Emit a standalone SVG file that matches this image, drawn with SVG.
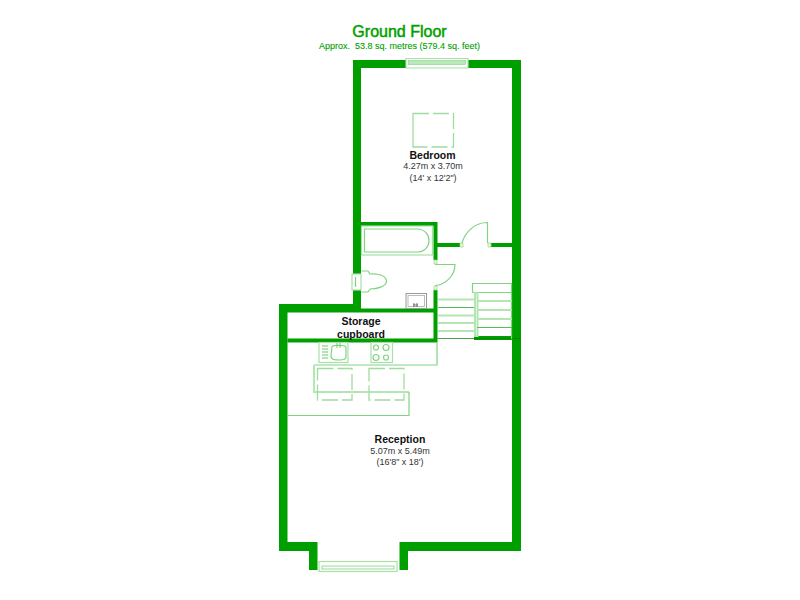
<svg xmlns="http://www.w3.org/2000/svg" width="800" height="600" viewBox="0 0 800 600">
<style>
text{font-family:"Liberation Sans",Arial,sans-serif;text-anchor:middle}
.w{fill:#009f00;stroke:none}
.l{fill:none;stroke:#80d480;stroke-width:1.2}
.p{fill:none;stroke:#b3e6b3;stroke-width:2}
.d{fill:none;stroke:#a0dca0;stroke-width:1.3;stroke-dasharray:16 4}
.g{fill:#fff;stroke:#a8e0a8;stroke-width:1.2}
.t{fill:#009f00}
.h{font-size:10.500px;font-weight:bold;fill:#111}
.s{font-size:9px;fill:#333}
</style>
<rect width="800" height="600" fill="#fff"/>
<text class="t" x="399.500" y="37" font-size="16" stroke="#009f00" stroke-width=".5">Ground Floor</text>
<text class="t" x="399.500" y="49" font-size="9" stroke="#009f00" stroke-width=".1" xml:space="preserve">Approx.  53.8 sq. metres (579.4 sq. feet)</text>
<g id="walls">
<path class="w" fill-rule="evenodd" d="M353 60H521V551H408V570H399.500V542H512V68H361V304H279V551H309V570H317.500V542H287.500V312.500H361V304H353Z"/>
<path class="w" d="M361 222H437.500V260H433.500V226H361ZM361 308.500H433.500V290H437.500V342.500H287.500V338.500H433.500V312.500H361ZM437.500 243H460V247H437.500ZM491 243H512V247H491ZM474 336H512V340H474Z"/>
<path d="M437.500 338.500H521" stroke="#007a00" stroke-width=".7" fill="none"/>
</g>
<g id="bedroom">
<path class="g" d="M406 58.500H468V68H406Z"/>
<rect x="408.500" y="60.500" width="57" height="4" fill="#b9e8b9" stroke="#8fd88f" stroke-width=".7"/>
<path class="d" d="M413 113.500H453.500V147H413ZM413 113.500V147"/>
<text class="h" x="432.500" y="159">Bedroom</text>
<text class="s" x="433" y="169">4.27m x 3.70m</text>
<text class="s" x="433" y="181">(14' x 12'2")</text>
</g>
<g id="bathroom">
<rect class="g" x="361.500" y="226" width="71" height="29"/>
<path class="l" d="M364.500 229H417C425 229 429 235 429 240.500C429 246 425 252 417 252H364.500Z"/>
<rect class="g" x="352" y="274" width="9" height="16"/>
<path class="l" d="M355.500 277V287M361.500 271H368L370 274C378 273 386.500 276 386.500 281C386.500 286 378 289 370 289L368 292H361.500"/>
<rect x="406" y="293.500" width="20.500" height="15" fill="#fff" stroke="#999" stroke-width="1"/>
<rect x="408" y="295.500" width="16.500" height="11" fill="none" stroke="#aaa" stroke-width=".8"/>
<path d="M414 303V307M417 303V307M413 305H418" stroke="#555" stroke-width=".8" fill="none"/>
</g>
<g id="doors">
<path class="l" d="M487.500 243V222.500C475 222.500 465 232 462 243M435 264.500H455C455 276 445 285 435 285.500"/>
<path d="M460 243H463V247H460ZM488 243H491V247H488ZM434 260H437V264H434ZM434 286H437V290H434Z" fill="#f7f4d8" stroke="#8fd88f" stroke-width=".7"/>
</g>
<g id="stairs">
<path class="l" d="M472.500 292.500V283.500H511.500V339M472.500 292.500H511.500"/>
<path class="p" d="M438 299.500H474M438 315.500H474M438 323H474M438 331H474M477 301H512M477 310H512M477 319H512"/>
<path class="p" stroke-width="1.500" d="M475 293V336H477.500V293Z"/>
<path d="M438 307.500H474M477 327.500H512" stroke="#55bf55" stroke-width="1" fill="none"/>
</g>
<g id="storage">
<text class="h" x="361" y="325">Storage</text>
<text class="h" x="361" y="338">cupboard</text>
</g>
<g id="reception">
<path class="l" d="M437 342.500V365H314"/>
<rect class="g" x="319" y="342.500" width="29" height="20"/>
<path class="p" stroke-width="1.200" d="M322 346H328M322 349H328M322 352H328M322 355H328M322 358H328"/>
<path class="l" d="M332 346.500C333 345 345 345 346 347V357C346 360 343 360 340 360C335 360 331 360 331 356Z"/>
<path d="M337 343V348M340 343V348" stroke="#55bf55" stroke-width=".8"/>
<rect class="g" x="371" y="342.500" width="21.500" height="20"/>
<g class="l"><circle cx="376" cy="347.500" r="2.500"/><circle cx="386" cy="347.500" r="3"/><circle cx="376" cy="357.500" r="3"/><circle cx="386" cy="357.500" r="2.500"/></g>
<path class="p" stroke-width="1.500" d="M314 365V392H409"/>
<path class="l" d="M287.500 415.500H409V392"/>
<path class="d" d="M317.500 368.500H352V400H317.500ZM369 368.500H404V400H369Z"/>
<text class="h" x="400" y="443">Reception</text>
<text class="s" x="400" y="454">5.07m x 5.49m</text>
<text class="s" x="400" y="465">(16'8" x 18')</text>
<rect class="g" x="319" y="561.500" width="78" height="10"/>
<rect x="322" y="566" width="72" height="3" fill="none" stroke="#7fd27f" stroke-width=".8"/>
</g>
</svg>
